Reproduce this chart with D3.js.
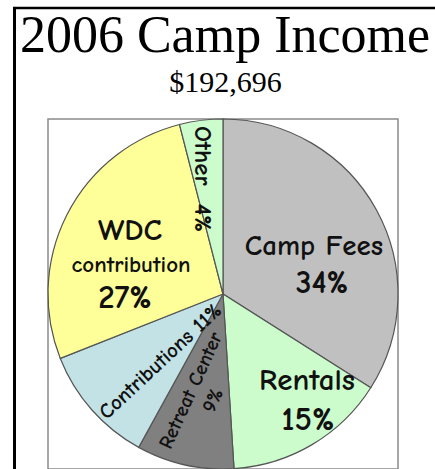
<!DOCTYPE html>
<html>
<head>
<meta charset="utf-8">
<script src="https://cdn.jsdelivr.net/npm/d3@7"></script>
<style>
  html, body { margin: 0; padding: 0; background: #fff; }
  svg { display: block; }
  .lbl { font-family: 'Comic Sans MS', 'Comic Neue', 'DejaVu Sans', sans-serif; fill: #111; white-space: pre; font-weight: 700; }
</style>
</head>
<body>
<svg id="chart" width="435" height="469"></svg>
<script>
// ---- data ----
const title = "2006 Camp Income";
const totalLabel = "$192,696";
const categories = ["Camp Fees", "Rentals", "Retreat Center", "Contributions", "WDC contribution", "Other"];
const percents = [34, 15, 9, 11, 27, 4];
const colors = ["#c0c0c0", "#ccfccc", "#808080", "#c2e2e6", "#ffff99", "#ccfccc"];

// ---- layout ----
const W = 435, H = 469;
const cx = 223, cy = 294, R = 175;
const svg = d3.select("#chart");

// outer frame (left and top edges visible)
svg.append("line").attr("x1", 14.5).attr("y1", 7).attr("x2", 14.5).attr("y2", H)
  .attr("stroke", "#000").attr("stroke-width", 3);
svg.append("line").attr("x1", 13).attr("y1", 8).attr("x2", W).attr("y2", 8)
  .attr("stroke", "#000").attr("stroke-width", 2.5);

// titles
svg.append("text").attr("x", 225).attr("y", 52).attr("text-anchor", "middle")
  .style("font-family", "'Times New Roman', 'Liberation Serif', serif").style("font-size", "52px")
  .attr("fill", "#000").text(title);
svg.append("text").attr("x", 225.5).attr("y", 92).attr("text-anchor", "middle")
  .style("font-family", "'Times New Roman', 'Liberation Serif', serif").style("font-size", "30px")
  .attr("fill", "#000").text(totalLabel);

// plot area rect
svg.append("rect").attr("x", cx - R).attr("y", cy - R).attr("width", 2 * R).attr("height", 2 * R)
  .attr("fill", "#fff").attr("stroke", "#8a8a8a").attr("stroke-width", 1.5);

// pie
const pie = d3.pie().sort(null).value(d => d.v).startAngle(0).endAngle(2 * Math.PI);
const arc = d3.arc().innerRadius(0).outerRadius(R);
const data = categories.map((c, i) => ({ c, v: percents[i], col: colors[i] }));
const g = svg.append("g").attr("transform", `translate(${cx},${cy})`);
g.selectAll("path").data(pie(data)).join("path")
  .attr("d", arc)
  .attr("fill", d => d.data.col)
  .attr("stroke", "#555")
  .attr("stroke-width", 1.2);

// labels (positions relative to pie centre)
const pct = i => percents[i] + "%";
function lbl(x, y, txt, size, rot) {
  const t = g.append("text").attr("class", "lbl").attr("text-anchor", "middle")
    .style("font-size", size + "px").text(txt);
  if (rot) {
    t.attr("dominant-baseline", "central").attr("transform", `translate(${x},${y}) rotate(${rot})`);
  } else {
    t.attr("x", x).attr("y", y);
  }
  return t;
}
// Camp Fees
lbl(91, -39, categories[0], 29);
lbl(99, -1, pct(0), 32);
// Rentals
lbl(84, 96, categories[1], 31);
lbl(85, 136, pct(1), 33);
// WDC contribution
lbl(-93, -54, "WDC", 31);
lbl(-92, -22, "contribution", 23);
lbl(-98, 14, pct(4), 33);
// Other (vertical)
lbl(-20, -115, categories[5] + "  " + pct(5), 25, 90);
// Contributions (rotated)
lbl(-63, 67, categories[3] + " " + pct(3), 21, -43);
// Retreat Center (rotated, two lines)
{
  const t = g.append("text").attr("class", "lbl").attr("text-anchor", "middle")
    .style("font-size", "20px")
    .attr("transform", `translate(-31,97) rotate(-65.5)`);
  t.append("tspan").attr("x", 0).attr("y", 5).text(categories[2]);
  t.append("tspan").attr("x", 0).attr("y", 29).text(pct(2));
}
</script>
</body>
</html>
